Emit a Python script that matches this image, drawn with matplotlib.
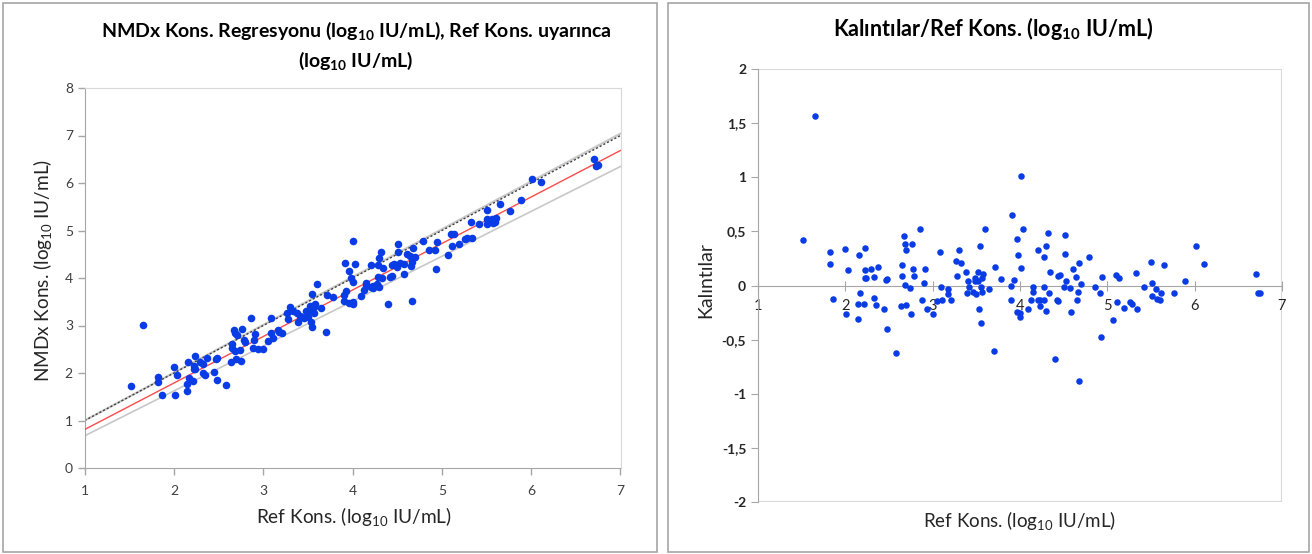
import numpy as np
import matplotlib.pyplot as plt
from matplotlib.patches import Rectangle

plt.rcParams['font.family'] = ['Lato', 'DejaVu Sans']
plt.rcParams['mathtext.fontset'] = 'custom'
plt.rcParams['mathtext.rm'] = 'Lato'
plt.rcParams['mathtext.bf'] = 'Lato:bold'
plt.rcParams['mathtext.default'] = 'regular'

# Ref konsantrasyonu (log10 IU/mL) ve kalintilar
ref_kons = [1.515, 1.649, 1.82, 1.82, 1.863, 2.00, 2.01, 2.035, 2.16, 2.145,
            2.145, 2.17, 2.21, 2.22, 2.23, 2.22, 2.235, 2.29, 2.33, 2.33,
            2.35, 2.37, 2.445, 2.47, 2.48, 2.48, 2.58, 2.65, 2.65, 2.67,
            2.635, 2.68, 2.70, 2.68, 2.69, 2.74, 2.75, 2.765, 2.78, 2.79,
            2.86, 2.88, 2.90, 2.91, 2.94, 3.00, 3.05, 3.085, 3.09, 3.11,
            3.17, 3.175, 3.21, 3.27, 3.28, 3.30, 3.33, 3.38, 3.39, 3.41,
            3.42, 3.46, 3.48, 3.49, 3.50, 3.52, 3.52, 3.53, 3.54, 3.55,
            3.55, 3.57, 3.58, 3.565, 3.60, 3.65, 3.70, 3.71, 3.78, 3.90,
            3.91, 3.90, 3.93, 3.96, 3.96, 3.98, 4.00, 4.00, 4.01, 4.01,
            4.03, 4.095, 4.13, 4.15, 4.15, 4.21, 4.21, 4.23, 4.23, 4.27,
            4.28, 4.28, 4.30, 4.30, 4.32, 4.33, 4.34, 4.40, 4.42, 4.44,
            4.44, 4.46, 4.50, 4.51, 4.51, 4.53, 4.57, 4.58, 4.61, 4.64,
            4.65, 4.66, 4.67, 4.68, 4.70, 4.79, 4.86, 4.92, 4.93, 4.94,
            5.07, 5.10, 5.11, 5.13, 5.19, 5.26, 5.28, 5.33, 5.34, 5.42,
            5.50, 5.51, 5.51, 5.56, 5.57, 5.60, 5.61, 5.65, 5.76, 5.89,
            6.01, 6.11, 6.70, 6.73, 6.75]
kalintilar = [0.417, 1.565, 0.31, 0.20, -0.12, 0.34, -0.26, 0.14, 0.28, -0.165,
              -0.305, -0.067, -0.165, 0.14, 0.35, 0.073, 0.073, 0.15, 0.08, -0.11,
              -0.175, 0.17, -0.215, 0.05, 0.064, -0.40, -0.62, 0.19, 0.09, 0.46,
              -0.185, 0.38, 0.33, 0.005, -0.175, -0.02, -0.265, 0.38, 0.15, 0.09,
              0.525, -0.135, 0.025, 0.15, -0.215, -0.265, -0.145, 0.31, -0.01, -0.135,
              -0.03, -0.075, -0.13, 0.23, 0.09, 0.33, 0.21, 0.13, -0.067, 0.04,
              -0.01, -0.06, 0.07, 0.04, -0.075, 0.13, 0.04, -0.215, 0.37, -0.345,
              -0.01, -0.06, 0.11, 0.07, 0.52, -0.03, -0.60, 0.17, 0.06, 0.0,
              0.655, -0.135, 0.05, 0.43, -0.24, 0.28, -0.285, -0.25, 0.16, 1.012,
              0.525, -0.215, -0.135, -0.01, -0.06, 0.33, -0.135, -0.185, -0.135, -0.135,
              -0.01, 0.26, -0.23, 0.37, 0.485, -0.067, 0.13, -0.68, -0.135, -0.145,
              0.09, 0.10, -0.01, 0.465, 0.29, 0.04, -0.02, -0.24, 0.15, 0.08,
              -0.13, -0.06, -0.88, 0.21, 0.015, 0.26, -0.01, -0.067, -0.47, 0.08,
              -0.315, 0.10, -0.155, 0.07, -0.205, -0.155, -0.165, 0.12, -0.215, -0.01,
              0.22, 0.025, -0.097, -0.03, -0.125, -0.135, -0.067, 0.19, -0.067, 0.04,
              0.37, 0.20, 0.11, -0.067, -0.067]

# regresyon dogrusu ve gri sinir cizgileri (egim, kesisim)
reg_egim, reg_kesisim = 0.979, -0.168
ust_egim, ust_kesisim = 1.0067, -0.007
alt_egim, alt_kesisim = 0.945, -0.267

ref_kons = np.array(ref_kons)
kalintilar = np.array(kalintilar)
# NMDx = regresyon tahmini + kalinti
nmdx_kons = reg_egim * ref_kons + reg_kesisim + kalintilar

mavi = '#0A3CE6'
cerceve = '#A6A6A6'
yazi = '#262626'

fig = plt.figure(figsize=(13.12, 5.54), dpi=100)
W, H = 1312, 554

def px(x0, y0, x1, y1):
    return [x0 / W, 1 - y1 / H, (x1 - x0) / W, (y1 - y0) / H]

# panel cerceveleri
fig.patches.append(Rectangle((3 / W, 1 - 552 / H), 654 / W, 549 / H, transform=fig.transFigure,
                             fill=False, edgecolor=cerceve, linewidth=1.2))
fig.patches.append(Rectangle((668 / W, 1 - 552 / H), 641 / W, 549 / H, transform=fig.transFigure,
                             fill=False, edgecolor=cerceve, linewidth=1.2))

# ---- sol grafik ----
ax1 = fig.add_axes(px(84.7, 88, 620.5, 468))
xx = np.array([1, 7])
ax1.plot(xx, ust_egim * xx + ust_kesisim, color='#C8C8C8', linewidth=1.6, zorder=2)
ax1.plot(xx, xx, color='#404040', linewidth=1.0, linestyle=(0, (1.5, 1.5)), zorder=2)
ax1.plot(xx, alt_egim * xx + alt_kesisim, color='#C8C8C8', linewidth=1.2, zorder=2)
ax1.plot(xx, reg_egim * xx + reg_kesisim, color='#FF4B4B', linewidth=1.0, zorder=3)
ax1.scatter(ref_kons, nmdx_kons, s=30, color=mavi, zorder=4, linewidths=0)
ax1.set_xlim(1, 7)
ax1.set_ylim(0, 8)
ax1.set_xticks(range(1, 8))
ax1.set_yticks(range(0, 9))
ax1.tick_params(labelsize=10, labelcolor='#404040', length=5, width=1, color='#A6A6A6')
ax1.tick_params(axis='x', pad=7)
for s in ['left', 'bottom']:
    ax1.spines[s].set_color('#A6A6A6')
for s in ['top', 'right']:
    ax1.spines[s].set_color('#D9D9D9')

fig.text(356 / W, 1 - 46 / H,
         'NMDx Kons. Regresyonu (log$_{10}$ IU/mL), Ref Kons. uyarınca\n(log$_{10}$ IU/mL)',
         ha='center', va='center', fontsize=14, fontweight='bold', linespacing=1.5)
fig.text(354 / W, 1 - 517 / H, 'Ref Kons. (log$_{10}$ IU/mL)', ha='center', va='center',
         fontsize=13.7, color=yazi)
fig.text(42.5 / W, 1 - 270 / H, 'NMDx Kons. (log$_{10}$ IU/mL)', ha='center', va='center',
         rotation=90, fontsize=13.7, color=yazi)

# ---- sag grafik ----
ax2 = fig.add_axes(px(758, 69, 1282, 502.3))
ax2.scatter(ref_kons, kalintilar, s=22, color=mavi, zorder=4, linewidths=0)
ax2.set_xlim(1, 7)
ax2.set_ylim(-2, 2)
ax2.spines['bottom'].set_position(('data', 0))
ax2.spines['bottom'].set_color('#A6A6A6')
ax2.spines['left'].set_color('#A6A6A6')
ax2.spines['top'].set_visible(False)
ax2.spines['right'].set_visible(False)
ax2.add_patch(Rectangle((0, 0), 1, 1, transform=ax2.transAxes, fill=False,
                        edgecolor='#D9D9D9', linewidth=1.5, zorder=1))
ax2.set_xticks(range(1, 8))
ax2.set_yticks([-2, -1.5, -1, -0.5, 0, 0.5, 1, 1.5, 2])
ax2.set_yticklabels(['-2', '-1,5', '-1', '-0,5', '0', '0,5', '1', '1,5', '2'],
                    fontweight='bold')
ax2.tick_params(axis='y', labelsize=10, color='#A6A6A6', length=5, labelcolor=yazi)
ax2.tick_params(axis='x', labelsize=10.5, color='#A6A6A6', direction='inout', length=7,
                pad=6, labelcolor=yazi)

fig.text(993 / W, 1 - 28 / H, 'Kalıntılar/Ref Kons. (log$_{10}$ IU/mL)', ha='center',
         va='center', fontsize=15.5, fontweight='bold')
fig.text(1020 / W, 1 - 520 / H, 'Ref Kons. (log$_{10}$ IU/mL)', ha='center', va='center',
         fontsize=13.5, color=yazi)
fig.text(706 / W, 1 - 280 / H, 'Kalıntılar', ha='center', va='center', rotation=90,
         fontsize=14, color=yazi)

fig.savefig('out.png', dpi=100)
